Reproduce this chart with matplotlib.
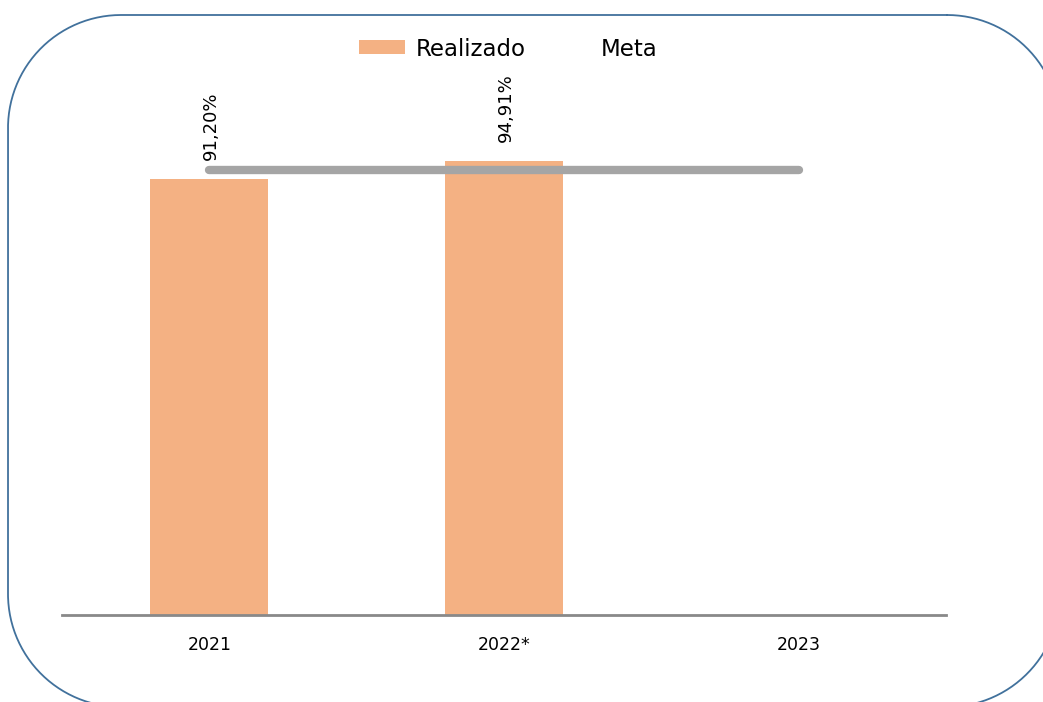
import numpy as np
import matplotlib.pyplot as plt
from matplotlib.patches import Patch
from matplotlib.lines import Line2D

plt.rcParams["font.family"] = ["DejaVu Sans"]

categories = ["2021", "2022*", "2023"]
realizado = [91.20, 94.91, None]
meta = [93.1, 93.1, 93.1]
labels = ["91,20%", "94,91%", ""]

W, H = 1043, 702
fig = plt.figure(figsize=(W / 100, H / 100), dpi=100)

# rounded frame, drawn in pixel units on a full-figure overlay
bg = fig.add_axes([0, 0, 1, 1])
bg.set_xlim(0, W)
bg.set_ylim(H, 0)
bg.axis("off")
left, top, right, bottom, r = 8, 15, 1060, 707, 113
corners = [(right - r, top + r, -90, 0), (right - r, bottom - r, 0, 90),
           (left + r, bottom - r, 90, 180), (left + r, top + r, 180, 270)]
px, py = [], []
for cx, cy, a0, a1 in corners:
    t = np.radians(np.linspace(a0, a1, 60))
    px.extend(cx + r * np.cos(t))
    py.extend(cy + r * np.sin(t))
px.append(px[0])
py.append(py[0])
bg.plot(px, py, color="#41719C", lw=1.3, clip_on=False)

ax = fig.add_axes([62 / W, (H - 615) / H, (946 - 62) / W, (615 - 137) / H])
x = list(range(len(categories)))
bx = [i for i, v in zip(x, realizado) if v is not None]
bv = [v for v in realizado if v is not None]
ax.bar(bx, bv, width=0.4, color="#F4B183", zorder=2)
ax.plot(x, meta, color="#A5A5A5", lw=6, solid_capstyle="round", zorder=3)

for i, v, t in zip(x, realizado, labels):
    if v is None:
        continue
    ax.annotate(t, (i, v), xytext=(1, 14), textcoords="offset points",
                rotation=90, ha="center", va="bottom", fontsize=13,
                annotation_clip=False)

ax.set_xlim(-0.5, 2.5)
ax.set_ylim(0, 100)
ax.set_xticks(x)
ax.set_xticklabels(categories, fontsize=12.5)
ax.tick_params(axis="x", length=0, pad=15)
ax.set_yticks([])
for s in ["top", "right", "left"]:
    ax.spines[s].set_visible(False)
ax.spines["bottom"].set_color("#898989")
ax.spines["bottom"].set_linewidth(2)
ax.patch.set_alpha(0)

handles = [Patch(facecolor="#F4B183", edgecolor="none", label="Realizado"),
           Line2D([], [], color="none", label="Meta")]
fig.legend(handles=handles, loc="center", bbox_to_anchor=(508 / W, 1 - 49 / H),
           ncol=2, frameon=False, fontsize=16.5, handlelength=2.0,
           handleheight=0.56, handletextpad=0.5, columnspacing=0.75,
           borderpad=0.2)

fig.savefig("out.png", dpi=100)
